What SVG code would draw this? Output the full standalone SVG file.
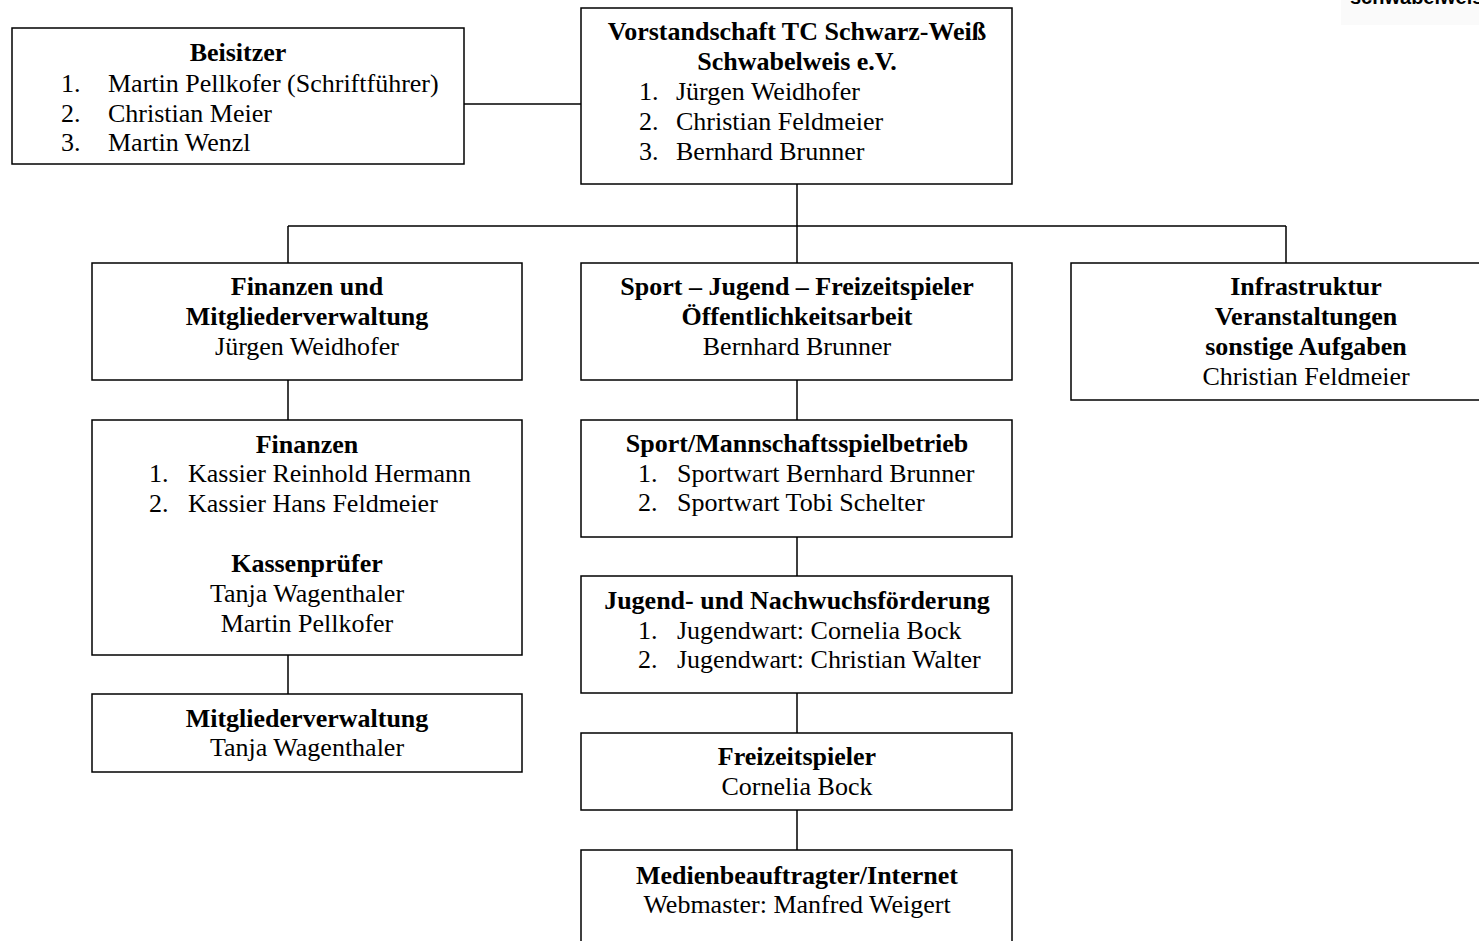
<svg xmlns="http://www.w3.org/2000/svg" width="1479" height="941" viewBox="0 0 1479 941">
<style>
.box{fill:#fff;stroke:#000;stroke-width:1.5}
.ln{stroke:#000;stroke-width:1.5;fill:none}
text{font-family:"Liberation Serif","Times New Roman",serif;font-size:26px;fill:#000}
.b{font-weight:bold}
.c{text-anchor:middle}
</style>
<rect x="1341" y="0" width="138" height="25" fill="#fafafa"/>
<text x="1350" y="4" style="font-family:'Liberation Sans',Arial,sans-serif;font-weight:bold;font-size:20px">schwabelweis</text>
<g id="connectors">
<path class="ln" d="M464 104H581"/>
<path class="ln" d="M797 184V226M288 226H1286M288 226V263M797 226V263M1286 226V263"/>
<path class="ln" d="M288 380V420M288 655V694"/>
<path class="ln" d="M797 380V420M797 537V576M797 693V733M797 810V850"/>
</g>
<g id="beisitzer">
<rect class="box" x="12" y="28" width="452" height="136"/>
<text class="b c" x="238" y="61">Beisitzer</text>
<text x="61" y="92">1.</text><text x="108" y="92">Martin Pellkofer (Schriftführer)</text>
<text x="61" y="122">2.</text><text x="108" y="122">Christian Meier</text>
<text x="61" y="151">3.</text><text x="108" y="151">Martin Wenzl</text>
</g>
<g id="vorstand">
<rect class="box" x="581" y="8" width="431" height="176"/>
<text class="b c" x="797" y="40">Vorstandschaft TC Schwarz-Weiß</text>
<text class="b c" x="797" y="70">Schwabelweis e.V.</text>
<text x="639" y="100">1.</text><text x="676" y="100">Jürgen Weidhofer</text>
<text x="639" y="130">2.</text><text x="676" y="130">Christian Feldmeier</text>
<text x="639" y="160">3.</text><text x="676" y="160">Bernhard Brunner</text>
</g>
<g id="finmit">
<rect class="box" x="92" y="263" width="430" height="117"/>
<text class="b c" x="307" y="295">Finanzen und</text>
<text class="b c" x="307" y="325">Mitgliederverwaltung</text>
<text class="c" x="307" y="355">Jürgen Weidhofer</text>
</g>
<g id="sport">
<rect class="box" x="581" y="263" width="431" height="117"/>
<text class="b c" x="797" y="295">Sport – Jugend – Freizeitspieler</text>
<text class="b c" x="797" y="325">Öffentlichkeitsarbeit</text>
<text class="c" x="797" y="355">Bernhard Brunner</text>
</g>
<g id="infra">
<rect class="box" x="1071" y="263" width="420" height="137"/>
<text class="b c" x="1306" y="295">Infrastruktur</text>
<text class="b c" x="1306" y="325">Veranstaltungen</text>
<text class="b c" x="1306" y="355">sonstige Aufgaben</text>
<text class="c" x="1306" y="385">Christian Feldmeier</text>
</g>
<g id="finanzen">
<rect class="box" x="92" y="420" width="430" height="235"/>
<text class="b c" x="307" y="453">Finanzen</text>
<text x="149" y="482">1.</text><text x="188" y="482">Kassier Reinhold Hermann</text>
<text x="149" y="512">2.</text><text x="188" y="512">Kassier Hans Feldmeier</text>
<text class="b c" x="307" y="572">Kassenprüfer</text>
<text class="c" x="307" y="602">Tanja Wagenthaler</text>
<text class="c" x="307" y="632">Martin Pellkofer</text>
</g>
<g id="mitglied">
<rect class="box" x="92" y="694" width="430" height="78"/>
<text class="b c" x="307" y="727">Mitgliederverwaltung</text>
<text class="c" x="307" y="756">Tanja Wagenthaler</text>
</g>
<g id="mannschaft">
<rect class="box" x="581" y="420" width="431" height="117"/>
<text class="b c" x="797" y="452">Sport/Mannschaftsspielbetrieb</text>
<text x="638" y="482">1.</text><text x="677" y="482">Sportwart Bernhard Brunner</text>
<text x="638" y="511">2.</text><text x="677" y="511">Sportwart Tobi Schelter</text>
</g>
<g id="jugend">
<rect class="box" x="581" y="576" width="431" height="117"/>
<text class="b c" x="797" y="609">Jugend- und Nachwuchsförderung</text>
<text x="638" y="639">1.</text><text x="677" y="639">Jugendwart: Cornelia Bock</text>
<text x="638" y="668">2.</text><text x="677" y="668">Jugendwart: Christian Walter</text>
</g>
<g id="freizeit">
<rect class="box" x="581" y="733" width="431" height="77"/>
<text class="b c" x="797" y="765">Freizeitspieler</text>
<text class="c" x="797" y="795">Cornelia Bock</text>
</g>
<g id="medien">
<rect class="box" x="581" y="850" width="431" height="100"/>
<text class="b c" x="797" y="884">Medienbeauftragter/Internet</text>
<text class="c" x="797" y="913">Webmaster: Manfred Weigert</text>
</g>
</svg>
